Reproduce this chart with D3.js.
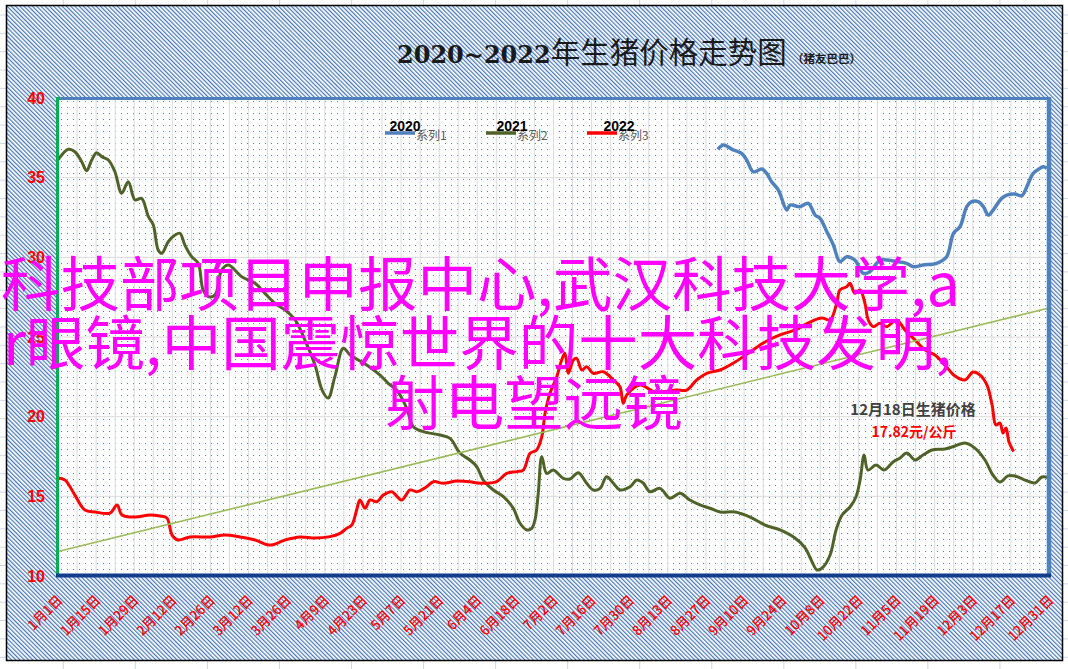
<!DOCTYPE html>
<html><head><meta charset="utf-8">
<script src="https://cdn.jsdelivr.net/npm/d3@7"></script>
<style>html,body{margin:0;padding:0;background:#fff;overflow:hidden} svg{display:block}</style>
</head><body><svg id="c" width="1068" height="669"></svg>
<script>
// ---------------- data ----------------
const titleMain = "2020~2022";
const titleRest = "年生猪价格走势图";
const titleSub = "（猪友巴巴）";
const legendYears = ["2020", "2021", "2022"];
const seriesNames = ["系列1", "系列2", "系列3"];
const yTicks = [10, 15, 20, 25, 30, 35, 40];
const tickLabels = ["1月1日","1月15日","1月29日","2月12日","2月26日","3月12日","3月26日","4月9日","4月23日",
  "5月7日","5月21日","6月4日","6月18日","7月2日","7月16日","7月30日","8月13日","8月27日","9月10日",
  "9月24日","10月8日","10月22日","11月5日","11月19日","12月3日","12月17日","12月31日"];
const tickDays = [0,14,28,42,56,70,84,98,112,126,140,154,168,182,196,210,224,238,252,266,280,294,308,322,336,350,364];

// 2020 (系列1) day-of-year, price
const days2020 = [242.4,244.4,248,251.1,253,255.4,258.5,260.3,262.1,264.6,267.7,268.9,272.5,275.6,278.1,279.9,282.4,284.8,287.2,289.7,292.7,295.8,298.2,301.9,304.4,308,311.7,314.2,317.8,322.7,326.4,328.9,331.3,333.8,335.6,338,339.9,341.7,343.5,346.6,348.5,351.5,354,356.4,358.2,360.7,361.9,363.2];
const price2020 = [36.78,37.05,36.74,36.53,36.1,35.37,35.54,35.27,34.75,34.22,32.97,33.28,33.18,33.39,32.65,32.45,31.61,30.77,29.73,30.04,29.83,29.0,29.1,29.83,29.83,29.73,29.62,29.41,29.52,29.62,30.04,31.51,31.92,33.18,33.49,33.49,33.18,32.65,32.97,33.7,33.91,33.97,33.87,34.65,35.27,35.59,35.69,35.59];

// 2021 (系列2)
const days2021 = [0,3.8,6.2,8.7,10.5,12.4,14.2,16.1,18.5,20.9,23.4,25.8,28.3,30.7,33.2,35,36.8,38.1,40.5,43,44.8,46.6,49.1,51.5,53.3,55.2,57.7,60.1,62.6,67.5,72.4,76,79.7,83.4,87.1,90.7,94.4,97,99.2,101.7,104.8,107.3,110.3,113.4,118.3,121.3,124.4,128.1,130.5,134.2,140.3,144,147.7,151.3,153.8,156.2,159.9,163.6,167.2,169.7,172.2,174,175.2,176.4,177.7,179.5,181.9,185.6,188.1,191.1,194.2,196.6,199.1,201.5,204,206.4,210.1,212.6,215,217.4,221.1,224.8,228.5,232.1,235.8,239.5,243.2,248.7,254.2,259.7,265.2,270.7,274.4,277,278.8,281,283.6,285.8,288,290.9,293.1,294.6,296.1,297.5,300.5,303.4,306.7,309.3,311.8,314.8,317.7,321,325.8,329.5,333.1,336.8,340.5,343.4,346,348.9,351.5,355.2,358.9,361.4,364];
const price2021 = [36.11,36.78,36.63,36.0,35.44,36.11,36.57,36.32,36.11,35.37,34.02,34.75,33.6,33.7,32.55,32.03,30.46,30.25,30.98,31.4,31.51,30.77,30.04,29.63,27.95,27.53,27.64,29.2,29.52,28.78,28.37,27.74,27.11,26.69,26.07,24.81,23.24,21.67,21.17,22.51,24.29,23.87,23.56,23.24,22.61,22.09,21.67,20.52,19.37,19.06,18.85,18.64,17.7,17.28,16.86,16.02,15.4,14.98,14.25,13.31,12.89,12.99,13.51,15.19,17.49,16.44,16.65,16.13,16.09,16.48,15.82,15.4,15.5,16.23,15.82,15.4,15.6,16.02,15.82,15.29,15.5,14.88,15.19,14.77,14.46,14.25,14.02,14.02,13.7,13.2,12.89,12.38,11.76,10.88,10.38,10.56,11.32,12.89,13.83,14.33,14.96,16.02,17.59,16.65,16.97,16.65,17.15,17.41,17.72,17.28,17.59,17.91,17.97,18.16,18.35,18.03,17.28,16.34,15.9,16.28,16.28,16.02,15.84,16.21,16.15];

// 2022 (系列3)
const days2022 = [0,2.6,6.2,9.9,13.6,19.1,21.7,23.5,28.3,33.8,37.5,40,41.9,44.1,48.5,55.8,61.3,66.9,72.4,77.9,83.4,88.9,94.4,99.9,103.6,106,107.9,109.7,110.9,112.8,114.6,117.1,119.5,122.6,126.2,129.3,131.8,135.4,137.9,141.5,146.4,151.3,155,161.1,164.8,168.5,170.9,173.4,175.8,177.7,178.9,180.7,183.2,185,186.2,187.4,189.3,190.5,192.4,194.2,196.6,200.3,204,206.4,207.6,208.9,213.8,219.3,227.3,230.9,234.6,238.3,243.2,248.7,254.2,259.7,265.2,270.7,276.2,280.6,283.6,286,287.2,289.7,290.9,292.7,294.6,296.4,297.6,299.4,301.9,304.4,308,311.1,314.8,318.5,322.1,325.8,329.5,333.1,336.1,338.7,341.2,343.1,344.5,346,347.1,348.2,349.3,351];
const price2022 = [16.15,16.02,15.08,14.14,14.02,13.95,14.46,13.83,13.7,13.83,13.76,13.64,12.57,12.26,12.45,12.45,12.57,12.45,12.26,11.94,12.26,12.45,12.38,12.47,12.68,12.99,13.2,14.14,14.77,14.25,14.77,14.66,15.08,15.29,14.77,15.4,15.29,15.6,15.92,15.82,15.96,15.92,15.82,15.92,16.44,16.55,16.65,17.7,17.91,18.74,20.21,21.47,22.51,23.56,23.98,22.72,23.56,23.66,22.93,23.14,22.72,22.82,22.3,21.88,20.84,21.36,21.99,21.55,21.67,21.67,22.3,22.72,22.93,23.43,24.06,24.69,25.13,25.44,25.94,26.19,26.07,27.11,27.95,28.16,28.37,27.74,27.95,27.11,26.07,25.65,25.86,25.65,26.07,25.44,24.81,24.18,23.87,23.24,22.55,22.3,22.8,22.61,21.99,20.73,19.48,19.6,18.97,19.29,18.41,17.82];

// linear trendline (endpoints)
const trendDays = [0, 364];
const trendValues = [11.54, 26.82];

const noteLine1 = "12月18日生猪价格";
const noteLine2 = "17.82元/公斤";
const overlayLines = ["科技部项目申报中心,武汉科技大学,a", "r眼镜,中国震惊世界的十大科技发明,", "射电望远镜"];

const colors = ["#4F81BD", "#4F6228", "#FF0000"];

// ---------------- drawing ----------------
const W = 1068, H = 669;
const svg = d3.select("#c");
const P = {left: 58, right: 1049, top: 98, bottom: 576};
const x = d3.scaleLinear().domain([0, 364]).range([P.left, P.right]);
const y = d3.scaleLinear().domain([10, 40]).range([P.bottom, P.top]);

const defs = svg.append("defs");
const hatch = defs.append("pattern").attr("id", "hatch").attr("patternUnits", "userSpaceOnUse")
  .attr("width", 3).attr("height", 3).attr("patternTransform", "rotate(-45)");
hatch.append("rect").attr("width", 3).attr("height", 3).attr("fill", "#ffffff");
hatch.append("rect").attr("width", 1.2).attr("height", 3).attr("fill", "#4575b8");

const dots = defs.append("pattern").attr("id", "dots").attr("patternUnits", "userSpaceOnUse")
  .attr("x", P.left).attr("y", P.top).attr("width", 6).attr("height", 6);
dots.append("rect").attr("x", 3).attr("y", 3).attr("width", 1).attr("height", 1).attr("fill", "#5a7fbf");

// spreadsheet gridlines behind
const sheet = svg.append("g");
sheet.append("rect").attr("width", W).attr("height", H).attr("fill", "#fff");
for (let gx = 63.3; gx < W; gx += 72.05) {
  sheet.append("line").attr("x1", gx).attr("x2", gx).attr("y1", 0).attr("y2", H).attr("stroke", "#d0d7e5");
}
for (let gy = 15; gy < H; gy += 18.35) {
  sheet.append("line").attr("x1", 0).attr("x2", W).attr("y1", gy).attr("y2", gy).attr("stroke", "#d0d7e5");
}

// chart area
svg.append("rect").attr("x", 6.5).attr("y", 5.5).attr("width", 1056).attr("height", 655)
  .attr("fill", "url(#hatch)").attr("stroke", "#000").attr("stroke-width", 1.5);

// plot area
svg.append("rect").attr("x", P.left).attr("y", P.top).attr("width", P.right - P.left).attr("height", P.bottom - P.top).attr("fill", "#fff");
svg.append("rect").attr("x", P.left).attr("y", P.top).attr("width", P.right - P.left).attr("height", P.bottom - P.top).attr("fill", "url(#dots)");

// gridlines
const grid = svg.append("g");
grid.selectAll(".vg").data(d3.range(7, 364, 7)).join("line")
  .attr("x1", d => x(d)).attr("x2", d => x(d)).attr("y1", P.top).attr("y2", P.bottom)
  .attr("stroke", "#dcdcdc").attr("stroke-width", 1);
grid.selectAll(".hg").data(yTicks.slice(1, -1)).join("line")
  .attr("x1", P.left).attr("x2", P.right).attr("y1", d => y(d)).attr("y2", d => y(d))
  .attr("stroke", "#dcdcdc").attr("stroke-width", 1);

// axes
const yAxis = svg.append("g").attr("transform", `translate(${P.left},0)`)
  .call(d3.axisLeft(y).tickValues(yTicks).tickSize(0).tickPadding(13));
yAxis.select(".domain").remove();
yAxis.selectAll("text").attr("fill", "#FF0000").attr("font-family", "Liberation Sans, Arial, sans-serif")
  .attr("font-size", 16).attr("font-weight", "bold");

const xAxis = svg.append("g").attr("transform", `translate(0,${P.bottom})`)
  .call(d3.axisBottom(x).tickValues(tickDays).tickFormat((d, i) => tickLabels[i]).tickSize(0));
xAxis.select(".domain").remove();
xAxis.selectAll("text").attr("x", 5).attr("y", 25).attr("dy", 0).attr("text-anchor", "end")
  .attr("transform", "rotate(-45,5,25)").attr("fill", "#FF0000")
  .attr("font-family", "Noto Sans CJK SC, sans-serif").attr("font-size", 13.5).attr("font-weight", 500);

// series
const line = d3.line().x(d => x(d[0])).y(d => y(d[1])).curve(d3.curveCatmullRom.alpha(0.5));
const series = [
  d3.zip(days2020, price2020),
  d3.zip(days2021, price2021),
  d3.zip(days2022, price2022)
];
svg.append("clipPath").attr("id", "pc").append("rect")
  .attr("x", P.left - 2).attr("y", P.top - 2).attr("width", P.right - P.left + 4).attr("height", P.bottom - P.top + 4);
const lines = svg.append("g").attr("clip-path", "url(#pc)");
series.forEach((s, i) => {
  lines.append("path").datum(s).attr("d", line).attr("fill", "none")
    .attr("stroke", colors[i]).attr("stroke-width", i === 0 ? 3.5 : 3).attr("stroke-linejoin", "round");
});
lines.append("path").datum(d3.zip(trendDays, trendValues))
  .attr("d", d3.line().x(d => x(d[0])).y(d => y(d[1])))
  .attr("stroke", "#9BBB59").attr("stroke-width", 1.6).attr("fill", "none");

// plot borders
svg.append("line").attr("x1", P.left - 2).attr("x2", P.right + 2).attr("y1", P.top + 0.5).attr("y2", P.top + 0.5)
  .attr("stroke", "#4F81BD").attr("stroke-width", 3);
svg.append("line").attr("x1", P.right).attr("x2", P.right).attr("y1", P.top - 1).attr("y2", P.bottom)
  .attr("stroke", "#4F81BD").attr("stroke-width", 4.5);
svg.append("line").attr("x1", P.left - 0.5).attr("x2", P.left - 0.5).attr("y1", P.top - 1).attr("y2", P.bottom)
  .attr("stroke", "#00B050").attr("stroke-width", 3);
svg.append("line").attr("x1", P.left - 2).attr("x2", P.right + 2).attr("y1", P.bottom - 0.5).attr("y2", P.bottom - 0.5)
  .attr("stroke", "#123C8C").attr("stroke-width", 4);

// title
const t = svg.append("text").attr("x", 397).attr("y", 63).attr("fill", "#1a1a1a");
t.append("tspan").attr("font-family", "DejaVu Serif, serif").attr("font-weight", "bold").attr("font-size", 24).text(titleMain);
t.append("tspan").attr("font-family", "Noto Sans CJK SC, sans-serif").attr("font-size", 29.5).text(titleRest);
svg.append("text").attr("x", 792).attr("y", 63).attr("font-family", "Noto Sans CJK SC, sans-serif")
  .attr("font-weight", "bold").attr("font-size", 11.5).attr("fill", "#1a1a1a").text(titleSub);

// legend
const legX = [385, 486, 587];
legendYears.forEach((yr, i) => {
  const lx = legX[i];
  svg.append("line").attr("x1", lx).attr("x2", lx + 30).attr("y1", 133).attr("y2", 133)
    .attr("stroke", colors[i]).attr("stroke-width", 3.5);
  svg.append("text").attr("x", lx + 31).attr("y", 140).attr("font-family", "Noto Sans CJK SC, sans-serif")
    .attr("font-size", 12).attr("fill", "#595959").text(seriesNames[i]);
  svg.append("text").attr("x", lx + 20 + i * 6).attr("y", 131).attr("text-anchor", "middle")
    .attr("font-family", "Liberation Sans, Arial, sans-serif").attr("font-weight", "bold")
    .attr("font-size", 14).attr("fill", "#000").text(yr);
});

// annotation
svg.append("text").attr("x", 913).attr("y", 415).attr("text-anchor", "middle")
  .attr("font-family", "Noto Sans CJK SC, sans-serif").attr("font-weight", "bold").attr("font-size", 15)
  .attr("fill", "#404040").text(noteLine1);
svg.append("text").attr("x", 914).attr("y", 437).attr("text-anchor", "middle")
  .attr("font-family", "Noto Sans CJK SC, sans-serif").attr("font-weight", "bold").attr("font-size", 14)
  .attr("fill", "#FF0000").text(noteLine2);

// overlay text
const ov = svg.append("g").attr("font-family", "Noto Sans CJK SC, sans-serif").attr("font-size", 59.5).attr("fill", "#FF00FF");
ov.append("text").attr("x", 1).attr("y", 306).text(overlayLines[0]);
ov.append("text").attr("x", 3).attr("y", 365).text(overlayLines[1]);
ov.append("text").attr("x", 534).attr("y", 425).attr("text-anchor", "middle").text(overlayLines[2]);
</script>
</body></html>
